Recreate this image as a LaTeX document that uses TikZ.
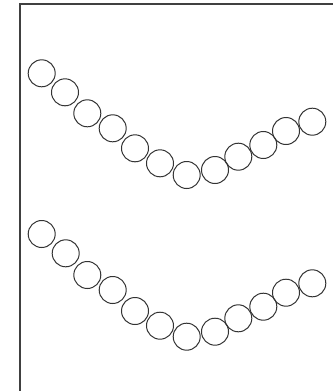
\documentclass[tikz,border=0pt]{standalone}
\begin{document}
\begin{tikzpicture}[x=1pt,y=-1pt,
    bead/.style={draw=black!80,circle,minimum size=27pt,inner sep=0pt,line width=1pt},
    frame/.style={draw=black!75,line width=1.5pt}]
\useasboundingbox (0,0) rectangle (333,391);
\draw[frame] (19.8,391) |- (333,3.8);
\node[bead] (a1) at (41.7,73.3) {};
\node[bead] (a2) at (65.0,92.3) {};
\node[bead] (a3) at (87.3,113.3) {};
\node[bead] (a4) at (112.7,128.3) {};
\node[bead] (a5) at (135.0,148.3) {};
\node[bead] (a6) at (160.0,163.3) {};
\node[bead] (a7) at (186.7,175.0) {};
\node[bead] (a8) at (215.0,170.0) {};
\node[bead] (a9) at (238.3,156.7) {};
\node[bead] (a10) at (263.3,145.0) {};
\node[bead] (a11) at (286.0,131.0) {};
\node[bead] (a12) at (312.3,121.7) {};
\node[bead] (b1) at (41.7,234.0) {};
\node[bead] (b2) at (65.7,253.3) {};
\node[bead] (b3) at (87.3,275.0) {};
\node[bead] (b4) at (112.7,290.0) {};
\node[bead] (b5) at (135.0,311.0) {};
\node[bead] (b6) at (160.0,325.7) {};
\node[bead] (b7) at (186.7,336.7) {};
\node[bead] (b8) at (215.0,331.7) {};
\node[bead] (b9) at (238.3,318.3) {};
\node[bead] (b10) at (263.3,306.7) {};
\node[bead] (b11) at (286.0,292.7) {};
\node[bead] (b12) at (312.3,283.3) {};
\end{tikzpicture}
\end{document}
